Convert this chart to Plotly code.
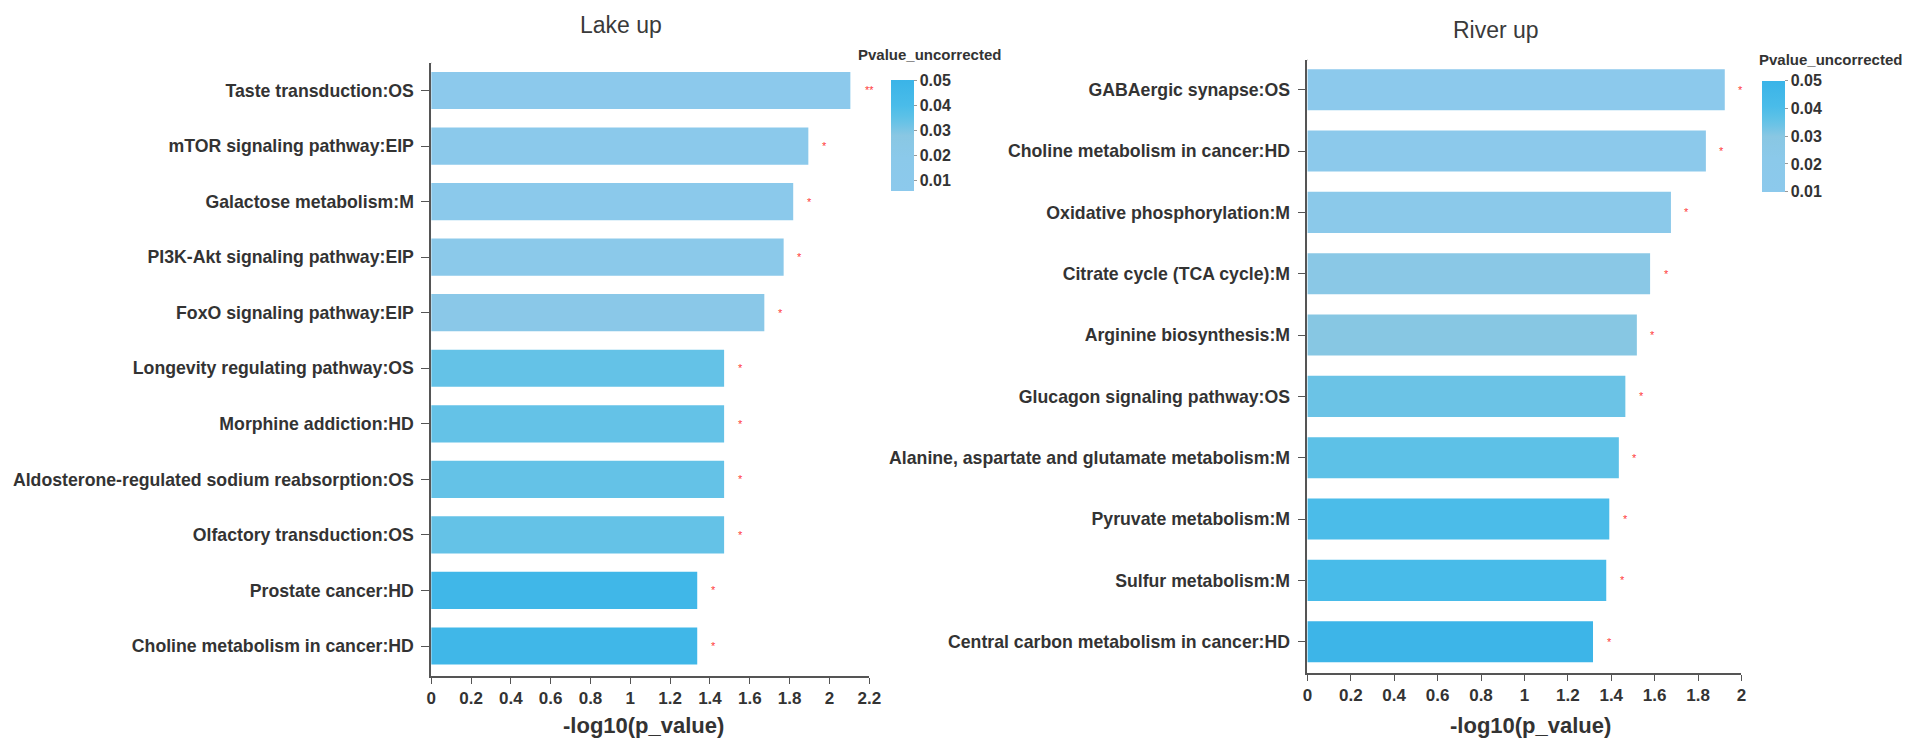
import plotly.graph_objects as go

# ---------------- data ----------------
lake_terms = [
    "Taste transduction:OS",
    "mTOR signaling pathway:EIP",
    "Galactose metabolism:M",
    "PI3K-Akt signaling pathway:EIP",
    "FoxO signaling pathway:EIP",
    "Longevity regulating pathway:OS",
    "Morphine addiction:HD",
    "Aldosterone-regulated sodium reabsorption:OS",
    "Olfactory transduction:OS",
    "Prostate cancer:HD",
    "Choline metabolism in cancer:HD",
]
lake_values = [2.105, 1.894, 1.818, 1.770, 1.673, 1.471, 1.471, 1.471, 1.471, 1.336, 1.336]
lake_p = [0.0079, 0.0128, 0.0152, 0.0170, 0.0212, 0.0338, 0.0338, 0.0338, 0.0338, 0.0461, 0.0461]
lake_sig = ["**", "*", "*", "*", "*", "*", "*", "*", "*", "*", "*"]

river_terms = [
    "GABAergic synapse:OS",
    "Choline metabolism in cancer:HD",
    "Oxidative phosphorylation:M",
    "Citrate cycle (TCA cycle):M",
    "Arginine biosynthesis:M",
    "Glucagon signaling pathway:OS",
    "Alanine, aspartate and glutamate metabolism:M",
    "Pyruvate metabolism:M",
    "Sulfur metabolism:M",
    "Central carbon metabolism in cancer:HD",
]
river_values = [1.923, 1.836, 1.675, 1.579, 1.518, 1.465, 1.435, 1.391, 1.377, 1.316]
river_p = [0.0119, 0.0146, 0.0211, 0.0264, 0.0303, 0.0343, 0.0367, 0.0406, 0.0420, 0.0483]
river_sig = ["*"] * 10

cbar_ticks = [0.01, 0.02, 0.03, 0.04, 0.05]
titles = ["Lake up", "River up"]
x_title = "-log10(p_value)"
cbar_title = "Pvalue_uncorrected"

# ---------------- style ----------------
W, H = 1919, 742
FONT = "Liberation Sans, Arial, Helvetica, sans-serif"
TXT = "#333333"
AX = "#555555"
scale = [
    [0.0, "#8CC9EC"], [0.3, "#8BC9EA"], [0.5, "#89C7E3"], [0.6, "#6DC3E6"],
    [0.67, "#5CC1E7"], [0.77, "#4ABCE9"], [1.0, "#3AB4E8"],
]

def px_x(p):
    return p / W

def px_y(p):
    return 1 - p / H

fig = go.Figure()

fig.add_trace(go.Bar(
    x=lake_values, y=lake_terms, orientation="h",
    marker=dict(color=lake_p, coloraxis="coloraxis", line=dict(width=0)),
    xaxis="x", yaxis="y", hoverinfo="x+y",
))
fig.add_trace(go.Bar(
    x=river_values, y=river_terms, orientation="h",
    marker=dict(color=river_p, coloraxis="coloraxis2", line=dict(width=0)),
    xaxis="x2", yaxis="y2", hoverinfo="x+y",
))

xtickfont = dict(family=FONT, size=17, color=TXT, weight="bold")
ytickfont = dict(family=FONT, size=17.7, color=TXT, weight="bold")
common_x = dict(showgrid=False, zeroline=False, showline=True, linecolor=AX, linewidth=1.5,
                ticks="outside", ticklen=6, tickwidth=1.2, tickcolor=AX, dtick=0.2, tick0=0,
                tickfont=xtickfont, fixedrange=True)
common_y = dict(showgrid=False, zeroline=False, showline=True, linecolor=AX, linewidth=1.5,
                ticks="outside", ticklen=8, tickwidth=1.2, tickcolor=AX, type="category",
                tickfont=ytickfont, ticklabelstandoff=4, fixedrange=True)

def cbar(x_left, y_top):
    return dict(
        x=px_x(x_left), xanchor="left", xpad=0, y=px_y(y_top), yanchor="top", ypad=0,
        thickness=23, thicknessmode="pixels", len=111, lenmode="pixels",
        outlinewidth=0, tickvals=cbar_ticks, tickformat=".2f",
        ticks="outside", ticklen=3, tickcolor="#999999",
        tickfont=dict(family=FONT, size=16, color=TXT, weight="bold"),
    )

fig.update_layout(
    width=W, height=H, margin=dict(l=0, r=0, t=0, b=0),
    paper_bgcolor="white", plot_bgcolor="white", showlegend=False,
    bargap=0.33,
    xaxis=dict(domain=[px_x(430), px_x(872)], range=[0, 2.2], anchor="y", **common_x),
    yaxis=dict(domain=[px_y(676), px_y(63)], range=[10.54, -0.495], anchor="x",
               categoryarray=lake_terms, categoryorder="array", **common_y),
    xaxis2=dict(domain=[px_x(1314), px_x(1752)], range=[0, 2.0], anchor="y2", **common_x),
    yaxis2=dict(domain=[px_y(673.3), px_y(60)], range=[9.515, -0.484], anchor="x2",
                categoryarray=river_terms, categoryorder="array", **common_y),
    coloraxis=dict(colorscale=scale, cmin=0.0056, cmax=0.05, colorbar=cbar(894, 80)),
    coloraxis2=dict(colorscale=scale, cmin=0.01, cmax=0.05, colorbar=cbar(1773, 80.7)),
    font=dict(family=FONT, color=TXT),
)

ann = []
# significance stars
for xa, ya, vals, terms, sig in (("x", "y", lake_values, lake_terms, lake_sig),
                                  ("x2", "y2", river_values, river_terms, river_sig)):
    for v, t, s in zip(vals, terms, sig):
        ann.append(dict(x=v, y=t, xref=xa, yref=ya, text=s, showarrow=False,
                        xanchor="center", yanchor="middle", xshift=16 if s == "*" else 19, yshift=0,
                        font=dict(family=FONT, size=11, color="#FF3B3B")))
# titles
ann.append(dict(x=px_x(622), y=px_y(25), xref="paper", yref="paper", text=titles[0], showarrow=False,
                xanchor="center", yanchor="middle", font=dict(family=FONT, size=23, color="#3a3a3a")))
ann.append(dict(x=px_x(1504), y=px_y(29.5), xref="paper", yref="paper", text=titles[1], showarrow=False,
                xanchor="center", yanchor="middle", font=dict(family=FONT, size=23, color="#3a3a3a")))
# x axis titles
for cx in (644, 1539):
    ann.append(dict(x=px_x(cx), y=px_y(725), xref="paper", yref="paper", text=x_title, showarrow=False,
                    xanchor="center", yanchor="middle",
                    font=dict(family=FONT, size=22, color=TXT, weight="bold")))
# colorbar titles
for cx, cy in ((933, 54), (1842, 60)):
    ann.append(dict(x=px_x(cx), y=px_y(cy), xref="paper", yref="paper", text=cbar_title, showarrow=False,
                    xanchor="center", yanchor="middle",
                    font=dict(family=FONT, size=15, color=TXT, weight="bold")))
fig.update_layout(annotations=ann)

# outer tick stubs at top of y axes
for xa, ya in (("x", "y"), ("x2", "y2")):
    fig.add_shape(type="line", xref=xa, yref=ya + " domain", xsizemode="pixel", xanchor=0,
                  x0=-7, x1=0, y0=1, y1=1, line=dict(color=AX, width=1.5))

fig.write_html("out.html")
